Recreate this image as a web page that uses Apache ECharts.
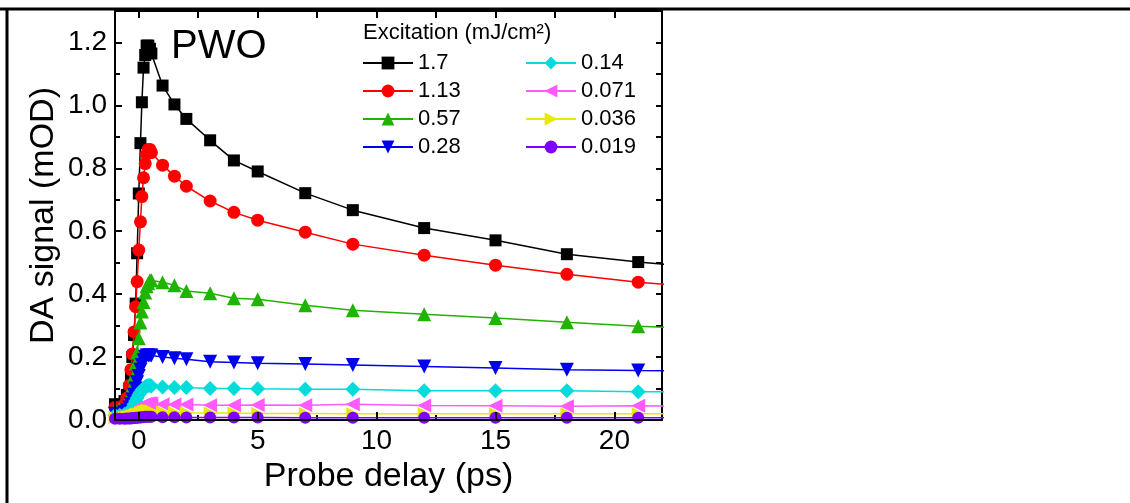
<!DOCTYPE html>
<html><head><meta charset="utf-8">
<script src="https://cdn.jsdelivr.net/npm/echarts@6/dist/echarts.min.js"></script>
<style>html,body{margin:0;padding:0;background:#fff}#c{width:1130px;height:503px}</style>
</head><body><div id="c"></div>
<script>
// Probe delays (ps), shared by all series
const delays = [-1, -0.8, -0.6, -0.5, -0.4, -0.33, -0.27, -0.2, -0.13, -0.07, 0, 0.07, 0.13, 0.2, 0.27, 0.33, 0.4, 0.47, 0.53, 1, 1.5, 2, 3, 4, 5, 7, 9, 12, 15, 18, 21, 25];
const excitations = ['1.7', '1.13', '0.57', '0.28', '0.14', '0.071', '0.036', '0.019'];
const s1_7   = [0.05, 0.05, 0.06, 0.08, 0.10, 0.14, 0.20, 0.27, 0.37, 0.53, 0.72, 0.88, 1.01, 1.12, 1.16, 1.19, 1.19, 1.18, 1.165, 1.063, 1.003, 0.957, 0.889, 0.825, 0.790, 0.721, 0.667, 0.610, 0.571, 0.527, 0.502, 0.475];
const s1_13  = [0.04, 0.04, 0.05, 0.07, 0.11, 0.16, 0.21, 0.28, 0.36, 0.44, 0.54, 0.63, 0.71, 0.77, 0.815, 0.845, 0.86, 0.86, 0.85, 0.81, 0.775, 0.743, 0.696, 0.660, 0.635, 0.597, 0.559, 0.524, 0.492, 0.463, 0.438, 0.415];
const s0_57  = [0.035, 0.035, 0.04, 0.05, 0.065, 0.085, 0.11, 0.14, 0.18, 0.215, 0.26, 0.31, 0.345, 0.375, 0.405, 0.425, 0.435, 0.444, 0.444, 0.438, 0.428, 0.410, 0.403, 0.387, 0.384, 0.365, 0.349, 0.336, 0.324, 0.311, 0.298, 0.285];
const s0_28  = [0.02, 0.02, 0.025, 0.03, 0.04, 0.05, 0.065, 0.08, 0.10, 0.12, 0.14, 0.16, 0.175, 0.19, 0.20, 0.205, 0.205, 0.205, 0.205, 0.200, 0.196, 0.193, 0.185, 0.183, 0.180, 0.178, 0.175, 0.170, 0.165, 0.160, 0.157, 0.155];
const s0_14  = [0.015, 0.015, 0.018, 0.02, 0.025, 0.03, 0.04, 0.05, 0.06, 0.07, 0.08, 0.088, 0.095, 0.10, 0.105, 0.108, 0.11, 0.11, 0.108, 0.105, 0.103, 0.103, 0.100, 0.100, 0.099, 0.098, 0.098, 0.093, 0.093, 0.093, 0.090, 0.090];
const s0_071 = [0.01, 0.01, 0.012, 0.014, 0.016, 0.02, 0.024, 0.028, 0.032, 0.036, 0.04, 0.043, 0.046, 0.049, 0.051, 0.052, 0.053, 0.053, 0.052, 0.050, 0.049, 0.049, 0.047, 0.047, 0.048, 0.047, 0.050, 0.046, 0.045, 0.044, 0.045, 0.044];
const s0_036 = [0.008, 0.008, 0.009, 0.01, 0.011, 0.012, 0.014, 0.016, 0.018, 0.019, 0.02, 0.023, 0.025, 0.027, 0.028, 0.03, 0.03, 0.03, 0.029, 0.026, 0.024, 0.023, 0.022, 0.022, 0.021, 0.021, 0.020, 0.020, 0.020, 0.020, 0.020, 0.020];
const s0_019 = [0.004, 0.004, 0.004, 0.005, 0.005, 0.005, 0.006, 0.006, 0.007, 0.007, 0.008, 0.008, 0.009, 0.009, 0.01, 0.01, 0.01, 0.01, 0.01, 0.009, 0.009, 0.008, 0.008, 0.008, 0.008, 0.007, 0.007, 0.007, 0.007, 0.007, 0.007, 0.007];
const xLabelTicks = [0, 5, 10, 15, 20];
const xMinorTicks = [2.5, 7.5, 12.5, 17.5];
const xTopTicks = [0, 2.5, 5, 7.5, 10, 12.5, 15, 17.5, 20];

const values = [s1_7, s1_13, s0_57, s0_28, s0_14, s0_071, s0_036, s0_019];
const colors = ['#000000', '#ff0000', '#1fb400', '#0000ee', '#00dcdc', '#ff5aff', '#e8e800', '#8000ff'];
const symbols = ['rect', 'circle', 'triangle', 'triangle', 'diamond', 'triangle', 'triangle', 'circle'];
const rotates = [0, 0, 0, 180, 0, 90, -90, 0];
const sizes = [12, 13, 14, 14, 15, 14, 13, 12];

const FONT = "'Liberation Sans', Arial, sans-serif";
const chart = echarts.init(document.getElementById('c'), null, {renderer: 'canvas'});

const series = excitations.map((name, i) => ({
  name: name,
  type: 'line',
  xAxisIndex: 0,
  yAxisIndex: 0,
  data: delays.map((d, k) => [d, values[i][k]]),
  symbol: symbols[i],
  symbolRotate: rotates[i],
  symbolSize: sizes[i],
  color: colors[i],
  lineStyle: {color: colors[i], width: 1.5},
  itemStyle: {color: colors[i]},
  clip: true,
  animation: false,
  z: 2 + i * 0.01
}));

const axisLineStyle = {show: true, onZero: false, lineStyle: {color: '#000', width: 2}};

const legendCommon = {
  orient: 'vertical', top: 52, padding: 0,
  itemWidth: 50, itemHeight: 16, itemGap: 6,
  lineStyle: {width: 2},
  textStyle: {fontSize: 22, color: '#000', fontFamily: FONT},
  selectedMode: false
};

const option = {
  animation: false,
  backgroundColor: '#fff',
  textStyle: {fontFamily: FONT},
  grid: {left: 115, right: 468, top: 11, bottom: 83, containLabel: false},
  xAxis: [
    {
      type: 'value', position: 'bottom', min: -1, max: 22,
      axisLine: axisLineStyle,
      axisTick: {show: true, inside: true, length: 8, lineStyle: {color: '#000', width: 2}, customValues: xLabelTicks},
      axisLabel: {show: true, customValues: xLabelTicks, fontSize: 28, color: '#000', fontFamily: FONT, margin: 7},
      splitLine: {show: false},
      name: 'Probe delay (ps)', nameLocation: 'middle', nameGap: 38,
      nameTextStyle: {fontSize: 34, color: '#000', fontFamily: FONT},
      z: 5
    },
    {
      type: 'value', position: 'top', min: -1, max: 22,
      axisLine: axisLineStyle,
      axisTick: {show: true, inside: true, length: 7, lineStyle: {color: '#000', width: 2}, customValues: xTopTicks},
      axisLabel: {show: false},
      splitLine: {show: false}
    },
    {
      type: 'value', position: 'bottom', min: -1, max: 22, offset: 0,
      axisLine: {show: false, onZero: false},
      axisTick: {show: true, inside: true, length: 5, lineStyle: {color: '#000', width: 2}, customValues: xMinorTicks},
      axisLabel: {show: false},
      splitLine: {show: false}
    }
  ],
  yAxis: [
    {
      type: 'value', position: 'left', min: 0, max: 1.3, interval: 0.2,
      axisLine: axisLineStyle,
      axisTick: {show: true, inside: true, length: 7, lineStyle: {color: '#000', width: 2}},
      minorTick: {show: true, splitNumber: 2, length: 5, lineStyle: {color: '#000', width: 2}},
      axisLabel: {fontSize: 28, color: '#000', fontFamily: FONT, margin: 8, showMaxLabel: false, formatter: v => v.toFixed(1)},
      splitLine: {show: false},
      name: 'DA signal (mOD)', nameLocation: 'middle', nameGap: 54, nameRotate: 90,
      nameTextStyle: {fontSize: 34, color: '#000', fontFamily: FONT},
      z: 5
    },
    {
      type: 'value', position: 'right', min: 0, max: 1.3, interval: 0.1,
      axisLine: axisLineStyle,
      axisTick: {show: true, inside: true, length: 6, lineStyle: {color: '#000', width: 2}},
      axisLabel: {show: false},
      splitLine: {show: false}
    }
  ],
  legend: [
    Object.assign({data: excitations.slice(0, 4), left: 362}, legendCommon),
    Object.assign({data: excitations.slice(4), left: 525}, legendCommon)
  ],
  graphic: [
    {type: 'line', shape: {x1: 0, y1: 9, x2: 1130, y2: 9}, style: {stroke: '#000', lineWidth: 3}, z: 10},
    {type: 'line', shape: {x1: 7, y1: 8, x2: 7, y2: 503}, style: {stroke: '#000', lineWidth: 3}, z: 10},
    {type: 'text', x: 171, y: 47, style: {text: 'PWO', fontSize: 40, fontFamily: FONT, fill: '#000', verticalAlign: 'middle', align: 'left'}, z: 10},
    {type: 'text', x: 363, y: 33, style: {text: 'Excitation (mJ/cm²)', fontSize: 22, fontFamily: FONT, fill: '#000', verticalAlign: 'middle', align: 'left'}, z: 10}
  ],
  series: series
};
chart.setOption(option);
</script>
</body></html>
